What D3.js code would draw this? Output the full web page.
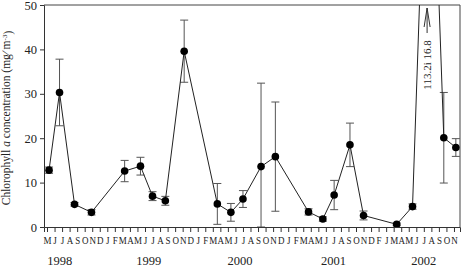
<!DOCTYPE html>
<html>
<head>
<meta charset="utf-8">
<script src="https://cdn.jsdelivr.net/npm/d3@7"></script>
<style>
  body { margin: 0; background: #fff; }
  svg { display: block; }
  text { font-family: "Liberation Serif", "DejaVu Serif", serif; fill: #222; }
</style>
</head>
<body>
<div id="chart"></div>
<script>
// ---------- Data ----------
// sampling time, in months since May 1998 (fractional = mid-month sampling)
const sampleMonth = [0.27, 1.66, 3.65, 5.9, 10.3, 12.4, 14.0, 15.7, 18.2, 22.6, 24.4, 26.0,
                     28.4, 30.3, 34.7, 36.6, 38.1, 40.2, 42.0, 46.4, 48.5, 50.7, 52.65, 54.25];
const chlorophyll = [12.8, 30.3, 5.1, 3.3, 12.6, 13.7, 6.95, 5.9, 39.6, 5.2, 3.3, 6.3,
                     13.6, 15.85, 3.4, 1.8, 7.2, 18.5, 2.6, 0.6, 4.6, 113.2, 20.1, 17.9];
const stdErr = [0.7, 7.5, 0.4, 0.6, 2.4, 2.0, 1.0, 1.0, 7.0, 4.6, 2.0, 1.9,
                18.8, 12.3, 0.7, 0.5, 3.3, 4.9, 1.0, 0.3, 0.6, 16.8, 10.2, 2.0];

const monthLabels = ['M','J','J','A','S','O','N','D',
  'J','F','M','A','M','J','J','A','S','O','N','D',
  'J','F','M','A','M','J','J','A','S','O','N','D',
  'J','F','M','A','M','J','J','A','S','O','N','D',
  'F','J','M','A','M','J','J','A','S','O','N'];
const yearLabels = ['1998', '1999', '2000', '2001', '2002'];
const yearCenter = [1.7, 13.5, 25.6, 38.0, 50.0];
const yTicks = [0, 10, 20, 30, 40, 50];
const peakNote = '113.2i 16.8';

// ---------- Setup ----------
const W = 464, H = 273;
const plot = { left: 44, right: 460, top: 5, bottom: 227 };

const svg = d3.select('#chart').append('svg')
    .attr('width', W)
    .attr('height', H);

const x = d3.scaleLinear().domain([-0.4, 54.8]).range([plot.left, plot.right]);
const y = d3.scaleLinear().domain([0, 50]).range([plot.bottom, plot.top]);

svg.append('clipPath').attr('id', 'plotClip')
  .append('rect')
    .attr('x', plot.left).attr('y', plot.top)
    .attr('width', plot.right - plot.left)
    .attr('height', plot.bottom - plot.top);

const data = sampleMonth.map((m, i) => ({ m, v: chlorophyll[i], e: stdErr[i] }));

// ---------- Axes ----------
const yAxis = svg.append('g')
    .attr('transform', `translate(${plot.left},0)`)
    .call(d3.axisLeft(y).tickValues(yTicks).tickSize(4).tickPadding(3));
yAxis.selectAll('text').style('font-size', '12.5px').style('font-family', '"Liberation Serif", serif');

const xAxis = svg.append('g')
    .attr('transform', `translate(0,${plot.bottom})`)
    .call(d3.axisBottom(x).tickValues(d3.range(monthLabels.length))
        .tickFormat(i => monthLabels[i]).tickSize(5).tickPadding(4));
xAxis.selectAll('text')
    .style('font-size', '11px')
    .style('font-family', '"Liberation Serif", serif')
    .attr('transform', 'scale(0.82,1)');

svg.selectAll('.domain, .tick line').attr('stroke', '#333');

// box: top and right border
svg.append('path')
    .attr('d', `M${plot.left},${plot.top}H${plot.right}V${plot.bottom}`)
    .attr('fill', 'none')
    .attr('stroke', '#444');

svg.append('g').selectAll('text')
    .data(yearLabels)
    .join('text')
    .attr('x', (d, i) => x(yearCenter[i]))
    .attr('y', 265)
    .attr('text-anchor', 'middle')
    .style('font-size', '12.5px')
    .text(d => d);

// y title
const yTitle = svg.append('text')
    .attr('transform', `translate(10,${(plot.top + plot.bottom) / 2 + 2}) rotate(-90)`)
    .attr('text-anchor', 'middle')
    .style('font-size', '11.5px');
yTitle.append('tspan').text('Chlorophyll ');
yTitle.append('tspan').style('font-style', 'italic').text('a');
yTitle.append('tspan').text(' concentration (mg\u2215 m');
yTitle.append('tspan').attr('dy', '-0.45em').style('font-size', '7px').text('-3');
yTitle.append('tspan').attr('dy', '0.45em').text(')');

// ---------- Marks ----------
const marks = svg.append('g').attr('clip-path', 'url(#plotClip)');

// error bars
const bars = marks.append('g').attr('stroke', '#555').attr('fill', 'none');
data.forEach(d => {
    const cx = x(d.m), hi = y(d.v + d.e), lo = y(Math.max(0, d.v - d.e));
    bars.append('path')
        .attr('d', `M${cx},${hi}V${lo}M${cx - 4},${hi}H${cx + 4}M${cx - 4},${lo}H${cx + 4}`);
});

marks.append('path')
    .datum(data)
    .attr('fill', 'none')
    .attr('stroke', '#222')
    .attr('stroke-width', 1)
    .attr('d', d3.line().x(d => x(d.m)).y(d => y(d.v)));

marks.selectAll('circle')
    .data(data)
    .join('circle')
    .attr('cx', d => x(d.m))
    .attr('cy', d => y(d.v))
    .attr('r', 3.8)
    .attr('fill', '#000');

// ---------- Off-scale peak note ----------
const peak = data[d3.maxIndex(data, d => d.v)];
const ax = x(peak.m) - 2;
svg.append('path')
    .attr('d', `M${ax - 3},${plot.top + 22}L${ax},${plot.top + 3}L${ax + 3},${plot.top + 22}M${ax},${plot.top + 3}V${plot.top + 28}`)
    .attr('fill', 'none')
    .attr('stroke', '#333');
svg.append('text')
    .attr('transform', `translate(${ax + 4},${plot.top + 60}) rotate(-90)`)
    .attr('text-anchor', 'middle')
    .style('font-size', '11px')
    .text(peakNote);
</script>
</body>
</html>
